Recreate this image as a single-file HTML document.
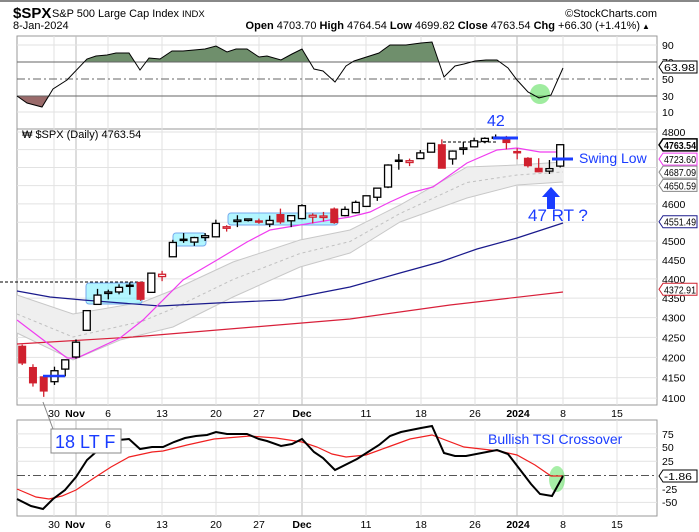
<!DOCTYPE html>
<html><head><meta charset="utf-8"><style>
html,body{margin:0;padding:0;background:#fff;}
svg{display:block;font-family:"Liberation Sans",Arial,sans-serif;}
.t{font-size:10.5px;fill:#000;}
.b{font-weight:bold;}
</style></head><body>
<svg id="s" width="699" height="532" viewBox="0 0 699 532" xmlns="http://www.w3.org/2000/svg">
<rect x="0" y="0" width="699" height="532" fill="#fff"/>
<rect x="0" y="0" width="699" height="2" fill="#888"/>
<g id="grid"></g>
<!-- headers -->
<text x="13" y="18" font-size="15" font-weight="bold">$SPX</text>
<text x="52" y="17" font-size="11" textLength="127" lengthAdjust="spacingAndGlyphs">S&amp;P 500 Large Cap Index</text>
<text x="182" y="17" font-size="9.5">INDX</text>
<text x="13" y="29" font-size="11">8-Jan-2024</text>
<text x="657" y="17" font-size="11" text-anchor="end">©StockCharts.com</text>
<text x="640" y="29" font-size="11" text-anchor="end"><tspan font-weight="bold">Open</tspan> 4703.70 <tspan font-weight="bold">High</tspan> 4764.54 <tspan font-weight="bold">Low</tspan> 4699.82 <tspan font-weight="bold">Close</tspan> 4763.54 <tspan font-weight="bold">Chg</tspan> +66.30 (+1.41%)</text>
<text x="642" y="29" font-size="8">▲</text>
<g id="rsi"></g>
<g id="price"></g>
<g id="tsi"></g>
<!-- RSI labels -->
<g class="t">
<text x="662" y="49">90</text><text x="662" y="66">70</text><text x="662" y="83">50</text><text x="662" y="100">30</text><text x="662" y="116">10</text>
</g>
<path d="M659,67 L663,61 L697,61 L697,73 L663,73 Z" fill="#fff" stroke="#000"/>
<text x="664" y="71" class="t" textLength="31" lengthAdjust="spacingAndGlyphs">63.98</text>
<!-- price labels -->
<text x="22" y="138" font-size="11">₩ $SPX (Daily) 4763.54</text>
<g class="t" id="plabels"></g>
<!-- TSI labels -->
<g class="t">
<text x="662" y="438">75</text><text x="662" y="451">50</text><text x="662" y="465">25</text><text x="662" y="493">-25</text><text x="662" y="506">-50</text>
</g>
<path d="M659,476 L663,470 L697,470 L697,482 L663,482 Z" fill="#fff" stroke="#000"/>
<text x="664" y="480" class="t" textLength="28" lengthAdjust="spacingAndGlyphs">-1.86</text>
<!-- date labels -->
<g class="t" text-anchor="middle">
<text x="54" y="417">30</text><text x="75" y="417" class="b">Nov</text><text x="108" y="417">6</text><text x="162" y="417">13</text><text x="216" y="417">20</text><text x="259" y="417">27</text><text x="302" y="417" class="b">Dec</text><text x="366" y="417">11</text><text x="421" y="417">18</text><text x="475" y="417">26</text><text x="518" y="417" class="b">2024</text><text x="563" y="417">8</text><text x="617" y="417">15</text>
</g>
<g class="t" text-anchor="middle">
<text x="54" y="528">30</text><text x="75" y="528" class="b">Nov</text><text x="108" y="528">6</text><text x="162" y="528">13</text><text x="216" y="528">20</text><text x="259" y="528">27</text><text x="302" y="528" class="b">Dec</text><text x="366" y="528">11</text><text x="421" y="528">18</text><text x="475" y="528">26</text><text x="518" y="528" class="b">2024</text><text x="563" y="528">8</text><text x="617" y="528">15</text>
</g>
<!-- annotations -->
<text x="487" y="126" font-size="16" fill="#1a3cff">42</text>
<text x="579" y="163" font-size="14" fill="#1a3cff">Swing Low</text>
<text x="528" y="221" font-size="17" fill="#1a3cff">47 RT ?</text>
<path d="M551,187 L560,197 L555,197 L555,209 L547,209 L547,197 L542,197 Z" fill="#1a3cff"/>
<line x1="43" y1="402" x2="53" y2="429" stroke="#888" stroke-width="1"/>
<rect x="51" y="429" width="70" height="24" fill="#fff" stroke="#888"/>
<text x="55" y="448" font-size="18" fill="#1a3cff">18 LT F</text>
<text x="488" y="444" font-size="14" fill="#1a3cff">Bullish TSI Crossover</text>
<script>
(function(){
var NS="http://www.w3.org/2000/svg";
function el(p,n,a){var e=document.createElementNS(NS,n);for(var k in a)e.setAttribute(k,a[k]);p.appendChild(e);return e;}
var grid=document.getElementById('grid'),rsi=document.getElementById('rsi'),price=document.getElementById('price'),tsi=document.getElementById('tsi'),pl=document.getElementById('plabels');
var L=17,R=657;
function X(k){return 76+(k-5)*10.76;}
function Y(p){return 132+1688*Math.log(4800/p);}
var panels=[[36,129],[129,405],[420,516]];
panels.forEach(function(p){el(grid,'rect',{x:L,y:p[0],width:R-L,height:p[1]-p[0],fill:'#fff',stroke:'#999','stroke-width':1});});
var weeks=[108,162,216,259,366,421,475,563,617,54];
var months=[76,302,517];
panels.forEach(function(p){
 weeks.forEach(function(x){el(grid,'line',{x1:x,y1:p[0],x2:x,y2:p[1],stroke:'#e2e2e2'});});
 months.forEach(function(x){el(grid,'line',{x1:x,y1:p[0],x2:x,y2:p[1],stroke:'#bbb'});});
});
[45,112].forEach(function(y){el(grid,'line',{x1:L,y1:y,x2:R,y2:y,stroke:'#e2e2e2'});});
for(var p=4100;p<=4800;p+=50){var y=Y(p);el(grid,'line',{x1:L,y1:y,x2:R,y2:y,stroke:'#e2e2e2'});}
[75,50,25,-25,-50].forEach(function(v){var y=475-v*0.548;el(grid,'line',{x1:L,y1:y,x2:R,y2:y,stroke:'#e2e2e2'});});
el(grid,'line',{x1:L,y1:475.5,x2:R,y2:475.5,stroke:'#555','stroke-dasharray':'8,3,2,3'});
var r=[[17,96],[27,103],[42,107],[53,89],[67,80],[87,59],[96,56],[107,55],[116,53],[129,53],[140,70],[149,58],[160,59],[172,51],[183,51],[205,49],[216,46],[227,52],[236,49],[247,49],[259,57],[267,56],[281,60],[292,54],[302,49],[314,69],[323,71],[335,82],[346,66],[354,61],[379,53],[390,45],[406,45],[421,43],[432,42],[444,77],[455,66],[464,64],[475,61],[486,60],[497,60],[508,68],[517,80],[528,92],[539,98],[551,95],[563,68]];
var pts=r.map(function(a){return a.join(',');}).join(' ');
var defs=el(rsi,'defs',{});
var c1=el(defs,'clipPath',{id:'ca'});el(c1,'rect',{x:0,y:0,width:699,height:62});
var c2=el(defs,'clipPath',{id:'cb'});el(c2,'rect',{x:0,y:96,width:699,height:40});
el(rsi,'polygon',{points:'17,62 '+pts+' 563,62','fill':'#6f8f6c','clip-path':'url(#ca)'});
el(rsi,'polygon',{points:'17,96 '+pts+' 563,96','fill':'#9a6b6b','clip-path':'url(#cb)'});
el(rsi,'line',{x1:L,y1:62,x2:R,y2:62,stroke:'#666'});
el(rsi,'line',{x1:L,y1:96,x2:R,y2:96,stroke:'#666'});
el(rsi,'line',{x1:L,y1:79,x2:R,y2:79,stroke:'#666','stroke-dasharray':'8,3,2,3'});
el(rsi,'circle',{cx:540,cy:94,r:10,fill:'#5fe05f','fill-opacity':0.6});
el(rsi,'polyline',{points:pts,fill:'none',stroke:'#000','stroke-width':1});
function pl2(a){return a.map(function(q){return q.join(',');}).join(' ');}
var up=[[17,295],[73,314],[143,302],[173,290],[233,262],[300,240],[350,230],[400,205],[467,167],[517,165],[563,162]];
var lo=[[17,333],[73,360],[120,340],[173,327],[233,297],[300,267],[350,253],[400,222],[467,198],[517,185],[563,182]];
el(price,'polygon',{points:pl2(up)+' '+pl2(lo.slice().reverse()),fill:'#efefef'});
el(price,'polyline',{points:pl2(up),fill:'none',stroke:'#c8c8c8'});
el(price,'polyline',{points:pl2(lo),fill:'none',stroke:'#c8c8c8'});
el(price,'polyline',{points:pl2(up.map(function(q,i){return [q[0],(q[1]+lo[i][1])/2];})),fill:'none',stroke:'#c0c0c0','stroke-dasharray':'3,3'});
el(price,'rect',{x:86,y:283,width:56,height:21,rx:3,fill:'#7ff0ff','fill-opacity':0.6,stroke:'#7ae'});
el(price,'rect',{x:173,y:233,width:33,height:13,rx:3,fill:'#7ff0ff','fill-opacity':0.6,stroke:'#7ae'});
el(price,'rect',{x:228,y:213,width:110,height:12,rx:3,fill:'#7ff0ff','fill-opacity':0.6,stroke:'#7ae'});
el(price,'polyline',{points:'17,344 133,337 350,319 450,305 563,292',fill:'none',stroke:'#d8203a','stroke-width':1.2});
el(price,'polyline',{points:'17,291 50,297 83,300 160,306 217,303 283,300 350,287 400,273 440,262 477,249 517,238 563,223',fill:'none',stroke:'#1a1a8c','stroke-width':1.2});
el(price,'polyline',{points:'17,320 67,358 77,358 120,338 143,320 183,280 217,260 247,242 270,230 330,220 350,217 370,212 390,202 410,193 433,187 467,163 497,150 517,148 540,152 560,152',fill:'none',stroke:'#f03cf0','stroke-width':1.2});
el(price,'line',{x1:0,y1:282,x2:143,y2:282,stroke:'#000','stroke-dasharray':'3,2'});
el(price,'line',{x1:443,y1:142,x2:497,y2:142,stroke:'#000','stroke-dasharray':'3,2'});
var D=[[4228,4232,4181,4186],[4175,4183,4128,4137],[4152,4156,4103,4117],[4140,4177,4132,4167],[4171,4195,4153,4194],[4201,4245,4197,4238],[4268,4319,4268,4318],[4334,4374,4334,4358],[4364,4372,4347,4366],[4366,4386,4360,4378],[4384,4391,4359,4383],[4391,4393,4343,4347],[4365,4415,4365,4415],[4406,4421,4394,4412],[4458,4503,4458,4496],[4505,4521,4495,4502],[4497,4511,4487,4509],[4509,4521,4500,4514],[4511,4557,4511,4547],[4538,4542,4525,4538],[4553,4569,4537,4556],[4555,4560,4552,4559],[4554,4560,4546,4550],[4545,4568,4537,4555],[4571,4587,4546,4551],[4554,4569,4537,4568],[4560,4599,4558,4595],[4564,4574,4547,4569],[4567,4578,4552,4567],[4586,4590,4546,4549],[4568,4593,4566,4585],[4576,4609,4574,4604],[4593,4623,4593,4622],[4618,4643,4608,4643],[4646,4709,4643,4707],[4721,4738,4694,4720],[4714,4725,4704,4719],[4725,4749,4725,4741],[4743,4768,4743,4768],[4764,4779,4698,4698],[4724,4748,4708,4746],[4753,4772,4736,4755],[4758,4784,4758,4775],[4773,4785,4768,4782],[4786,4793,4780,4783],[4783,4789,4751,4770],[4745,4754,4723,4743],[4726,4729,4700,4705],[4698,4726,4687,4688],[4690,4721,4682,4697],[4704,4765,4700,4764]];
D.forEach(function(d,k){
 var x=X(k),o=d[0],h=d[1],l=d[2],c=d[3],pc=k?D[k-1][3]:4220;
 var col=(c>=pc)?'#000':'#d0202e';
 var top=Y(Math.max(o,c)),bot=Y(Math.min(o,c));if(bot-top<1.5){bot=top+1.5;}
 el(price,'line',{x1:x,y1:Y(h),x2:x,y2:Y(l),stroke:col,'stroke-width':1.3});
 if(c>=o)el(price,'rect',{x:x-3.5,y:top,width:7,height:bot-top,fill:'#fff',stroke:col,'stroke-width':1.3});
 else el(price,'rect',{x:x-3.5,y:top,width:7,height:bot-top,fill:col,stroke:col,'stroke-width':1});
});
el(price,'line',{x1:43,y1:376,x2:65,y2:376,stroke:'#1a3cff','stroke-width':2.5});
el(price,'line',{x1:493,y1:138,x2:518,y2:138,stroke:'#1a3cff','stroke-width':3});
el(price,'line',{x1:552,y1:159,x2:573,y2:159,stroke:'#1a3cff','stroke-width':3});
[4800,4600,4500,4450,4400,4350,4300,4250,4200,4150,4100].forEach(function(p){var t=el(pl,'text',{x:662,y:Y(p)+4});t.textContent=p;});
var tags=[[4763.54,'#000',true],[4723.60,'#f03cf0'],[4687.09,'#888'],[4650.59,'#888'],[4551.49,'#1a1a8c'],[4372.91,'#d0202e']];
tags.forEach(function(t){var y=Y(t[0]);el(pl,'path',{d:'M659,'+y+' L663,'+(y-6)+' L697,'+(y-6)+' L697,'+(y+6)+' L663,'+(y+6)+' Z',fill:'#fff',stroke:t[1],'stroke-width':t[2]?1.5:1});var e=el(pl,'text',{x:664,y:y+4,textLength:32,lengthAdjust:'spacingAndGlyphs'});if(t[2])e.setAttribute('font-weight','bold');e.textContent=t[0].toFixed(2);});
el(tsi,'ellipse',{cx:557,cy:479,rx:8,ry:13,fill:'#5fe05f','fill-opacity':0.55});
el(tsi,'polyline',{points:'17,489 36,497 49,499 62,496 76,490 94,478 111,467 129,457 152,452 163,451 187,445 214,439 250,436 276,438 302,442 317,447 332,454 346,457 366,455 388,447 410,439 432,435 464,447 499,451 517,455 535,465 551,476 563,476',fill:'none',stroke:'#f02020','stroke-width':1.2});
el(tsi,'polyline',{points:'17,499 31,506 43,509 53,499 65,490 76,477 87,460 96,452 107,443 118,440 129,439 140,449 152,447 163,447 174,442 185,438 196,436 207,435 216,432 227,434 247,434 259,439 267,441 281,446 292,444 302,439 314,452 323,458 335,470 357,459 379,445 390,436 401,432 421,428 432,426 444,453 455,456 466,456 497,450 508,454 518,467 531,484 540,494 552,496 563,476',fill:'none',stroke:'#000','stroke-width':2});
})();
</script>
</svg>
</body></html>
